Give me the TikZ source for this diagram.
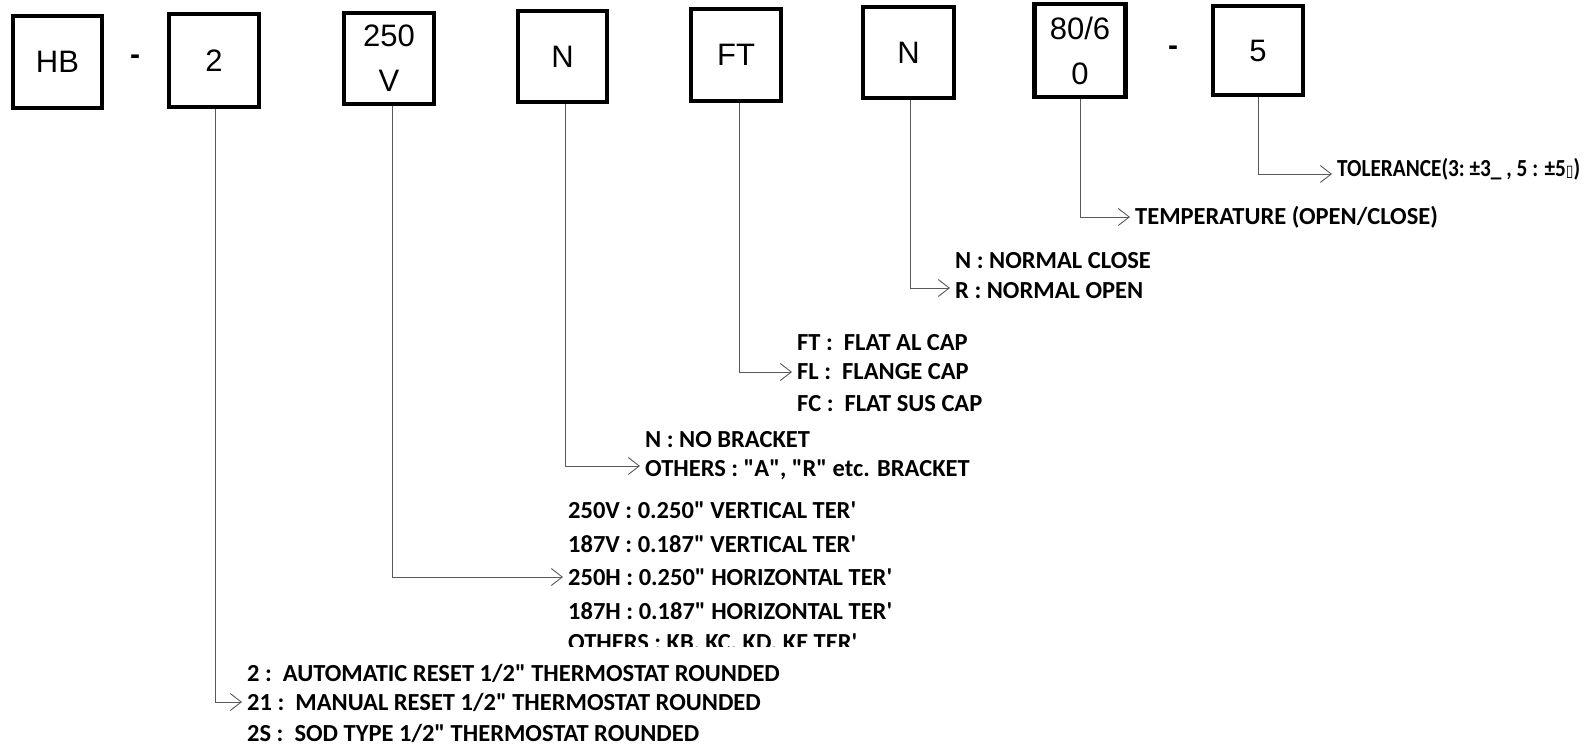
\documentclass[tikz,border=0pt]{standalone}
\usepackage{fontspec}
\setmainfont{Carlito}
\newfontfamily\boxfont{Liberation Sans}
\newfontfamily\symfont{DejaVu Sans}
\usetikzlibrary{arrows.meta}
\newcommand{\dq}{\textquotedbl}
\newcommand{\sq}{\textquotesingle}
\begin{document}
\begin{tikzpicture}[x=1pt,y=-1pt,
  codebox/.style={draw=black,line width=4.5pt,inner sep=0pt,font=\boxfont\fontsize{31}{45}\selectfont,align=center},
  dashsign/.style={font=\boxfont\bfseries\fontsize{30}{36}\selectfont,inner sep=0pt},
  lbl/.style={anchor=west,inner sep=0pt,font=\bfseries\fontsize{24.5}{28}\selectfont},
  conn/.style={draw=black!65,line width=0.9pt,-{Straight Barb[length=11pt,width=17pt,line width=0.9pt]},shorten >=5pt}]
\useasboundingbox (0,0) rectangle (1591,751);
% code boxes
\node[codebox,minimum width=89pt,minimum height=92pt] (bHB) at (57.5,62) {HB};
\node[dashsign] (d1) at (135,60) {-};
\node[codebox,minimum width=90pt,minimum height=93pt] (b2) at (214,60.5) {2};
\node[codebox,minimum width=90pt,minimum height=91pt] (b250) at (389,58.5) {250\\V};
\node[codebox,minimum width=89pt,minimum height=91pt] (bN) at (562.5,56.5) {N};
\node[codebox,minimum width=90pt,minimum height=92pt] (bFT) at (736,55) {FT};
\node[codebox,minimum width=91pt,minimum height=91pt] (bN2) at (908.5,52.5) {N};
\node[codebox,minimum width=91pt,minimum height=93pt] (b80) at (1080,50.5) {80/6\\0};
\node[dashsign] (d2) at (1173,51) {-};
\node[codebox,minimum width=90pt,minimum height=89pt] (b5) at (1258,50.5) {5};
% connector x positions
\coordinate (c2) at (215,0);
\coordinate (c250) at (392,0);
\coordinate (cN) at (565,0);
\coordinate (cFT) at (739,0);
\coordinate (cN2) at (910,0);
\coordinate (c80) at (1080,0);
\coordinate (c5) at (1258,0);
% labels
\node[lbl] (tol) at (1337,169) {\resizebox{243pt}{\height}{TOLERANCE(3:~±3\_ , 5 : ±5{\symfont\fontsize{16}{18}\selectfont ▯})}};
\node[lbl] (temp) at (1135,217) {TEMPERATURE (OPEN/CLOSE)};
\node[lbl] (nc) at (955,261) {N : NORMAL CLOSE};
\node[lbl] (no) at (955,291) {R : NORMAL OPEN};
\node[lbl] (ft) at (797,343) {FT :\ \ FLAT AL CAP};
\node[lbl] (fl) at (797,372) {FL :\ \ FLANGE CAP};
\node[lbl] (fc) at (797,404) {FC :\ \ FLAT SUS CAP};
\node[lbl] (nb) at (645,440) {N : NO BRACKET};
\node[lbl] (ob) at (645,470) {OTHERS : \dq A\dq, \dq R\dq\ etc. BRACKET};
\node[lbl] (v250) at (568,510) {250V : 0.250\dq\ VERTICAL TER\sq};
\node[lbl] (v187) at (568,544) {187V : 0.187\dq\ VERTICAL TER\sq};
\node[lbl] (h250) at (568,577) {250H : 0.250\dq\ HORIZONTAL TER\sq};
\node[lbl] (h187) at (568,611) {187H : 0.187\dq\ HORIZONTAL TER\sq};
\begin{scope}
\clip (500,600) rectangle (1100,646);
\node[lbl] (oth) at (568,644) {OTHERS : KB, KC, KD, KE TER\sq};
\end{scope}
\node[lbl] (t2) at (247,673) {2 :\ \ AUTOMATIC RESET 1/2\dq\ THERMOSTAT ROUNDED};
\node[lbl] (t21) at (247,702) {21 :\ \ MANUAL RESET 1/2\dq\ THERMOSTAT ROUNDED};
\node[lbl] (t2s) at (247,733) {2S :\ \ SOD TYPE 1/2\dq\ THERMOSTAT ROUNDED};
% connectors
\draw[conn] (b5.south -| c5) |- ([yshift=-5pt]tol.west);
\draw[conn] (b80.south -| c80) |- (temp.west);
\draw[conn] (bN2.south -| cN2) |- ([yshift=3pt]no.west);
\draw[conn] (bFT.south -| cFT) |- (fl.west);
\draw[conn] (bN.south -| cN) |- ([yshift=4pt]ob.west);
\draw[conn] (b250.south -| c250) |- (h250.west);
\draw[conn] (b2.south -| c2) |- (t21.west);
\end{tikzpicture}
\end{document}
